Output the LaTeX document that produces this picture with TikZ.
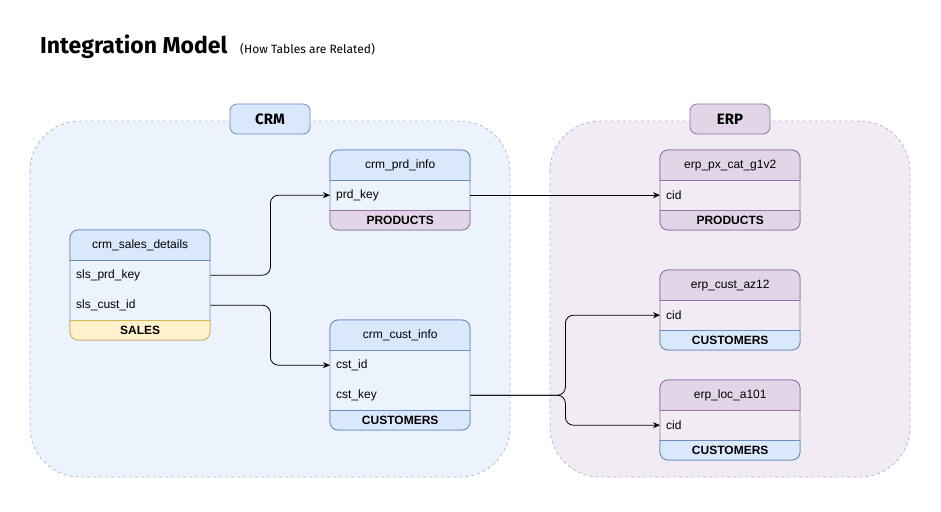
\documentclass[tikz,border=0pt]{standalone}
\usepackage{fontspec}
\setmainfont{Liberation Sans}
\newfontfamily\handfont{Fira Sans}
\usetikzlibrary{arrows.meta}
\definecolor{crmhead}{HTML}{DAE8FC}
\definecolor{crmline}{HTML}{6C8EBF}
\definecolor{crmbody}{HTML}{EDF3FC}
\definecolor{crmcont}{HTML}{EDF3FC}
\definecolor{crmdash}{HTML}{AFBDD9}
\definecolor{erphead}{HTML}{E1D5E7}
\definecolor{erpline}{HTML}{9673A6}
\definecolor{erpbody}{HTML}{F1ECF4}
\definecolor{erpcont}{HTML}{F1EBF4}
\definecolor{erpdash}{HTML}{C4B1CD}
\definecolor{salesfill}{HTML}{FFF2CC}
\definecolor{salesline}{HTML}{D6B656}
\newcommand\tabframe[8]{%
 \pgfmathsetmacro\tfxa{#1}\pgfmathsetmacro\tfxb{#1+140}%
 \pgfmathsetmacro\tfya{#2}\pgfmathsetmacro\tfyh{#2+30}%
 \pgfmathsetmacro\tfyf{#2+30+30*#3}\pgfmathsetmacro\tfyb{\tfyf+20}%
 \filldraw[fill=#5,draw=#6,tabline,rounded corners=8] (\tfxa,\tfya) rectangle (\tfxb,\tfyb);
 \begin{scope}\clip (\tfxa-2,\tfya-2) rectangle (\tfxb+2,\tfyh);
  \filldraw[fill=#4,draw=#6,tabline,rounded corners=8] (\tfxa,\tfya) rectangle (\tfxb,\tfyh+20);
 \end{scope}
 \draw[#6,tabline] (\tfxa,\tfyh) -- (\tfxb,\tfyh);
 \begin{scope}\clip (\tfxa-2,\tfyf) rectangle (\tfxb+2,\tfyb+2);
  \filldraw[fill=#7,draw=#8,tabline,rounded corners=8] (\tfxa,\tfyf-20) rectangle (\tfxb,\tfyb);
 \end{scope}
 \draw[#8,tabline] (\tfxa,\tfyf) -- (\tfxb,\tfyf);
}
\begin{document}
\begin{tikzpicture}[x=1pt,y=-1pt,
  tabline/.style={line width=0.8pt},
  ttl/.style={font=\fontsize{12}{14}\selectfont, minimum width=140pt, minimum height=30pt, inner sep=0pt, anchor=north west},
  rowtxt/.style={font=\fontsize{12}{14}\selectfont, text width=128pt, align=left, inner xsep=6pt, inner ysep=0pt, minimum height=30pt, anchor=north west},
  foot/.style={font=\bfseries\fontsize{12}{14}\selectfont, minimum width=140pt, minimum height=20pt, inner sep=0pt, anchor=north west},
  cont/.style={dashed, line width=0.8pt, rounded corners=50},
  lbl/.style={font=\handfont\bfseries\fontsize{15}{18}\selectfont, minimum width=80pt, minimum height=30pt, inner sep=0pt, rounded corners=7, line width=0.8pt},
  conn/.style={line width=0.8pt, rounded corners=8, -{Stealth[length=7pt,width=6pt]}}
]
\useasboundingbox (0,0) rectangle (941,511);
\fill[white] (0,0) rectangle (941,511);

% title
\node[font=\handfont\bfseries\fontsize{23}{26}\selectfont, anchor=base west, inner sep=0pt] (title) at (40,54) {Integration Model};
\node[font=\handfont\fontsize{12}{14}\selectfont, anchor=base west, inner sep=0pt] (subtitle) at (240,53) {(How Tables are Related)};

% containers
\filldraw[cont, fill=crmcont, draw=crmdash] (30,121) rectangle (510,477);
\filldraw[cont, fill=erpcont, draw=erpdash] (550,121) rectangle (910,477);
\node[lbl, fill=crmhead, draw=crmline] (crm) at (270,119) {CRM};
\node[lbl, fill=erphead, draw=erpline] (erp) at (730,119) {ERP};

% crm_sales_details
\tabframe{70}{230}{2}{crmhead}{crmbody}{crmline}{salesfill}{salesline}
\node[ttl] (sdh) at (70,230) {crm\_sales\_details};
\node[rowtxt] (sprd) at (70,260) {sls\_prd\_key};
\node[rowtxt] (scust) at (70,290) {sls\_cust\_id};
\node[foot] (sdf) at (70,320) {SALES};

% crm_prd_info
\tabframe{330}{150}{1}{crmhead}{crmbody}{crmline}{erphead}{erpline}
\node[ttl] (pih) at (330,150) {crm\_prd\_info};
\node[rowtxt] (prdk) at (330,180) {prd\_key};
\node[foot] (pif) at (330,210) {PRODUCTS};

% crm_cust_info
\tabframe{330}{320}{2}{crmhead}{crmbody}{crmline}{crmhead}{crmline}
\node[ttl] (cih) at (330,320) {crm\_cust\_info};
\node[rowtxt] (cstid) at (330,350) {cst\_id};
\node[rowtxt] (cstk) at (330,380) {cst\_key};
\node[foot] (cif) at (330,410) {CUSTOMERS};

% erp_px_cat_g1v2
\tabframe{660}{150}{1}{erphead}{erpbody}{erpline}{erphead}{erpline}
\node[ttl] (pxh) at (660,150) {erp\_px\_cat\_g1v2};
\node[rowtxt] (cid1) at (660,180) {cid};
\node[foot] (pxf) at (660,210) {PRODUCTS};

% erp_cust_az12
\tabframe{660}{270}{1}{erphead}{erpbody}{erpline}{crmhead}{crmline}
\node[ttl] (azh) at (660,270) {erp\_cust\_az12};
\node[rowtxt] (cid2) at (660,300) {cid};
\node[foot] (azf) at (660,330) {CUSTOMERS};

% erp_loc_a101
\tabframe{660}{380}{1}{erphead}{erpbody}{erpline}{crmhead}{crmline}
\node[ttl] (loh) at (660,380) {erp\_loc\_a101};
\node[rowtxt] (cid3) at (660,410) {cid};
\node[foot] (lof) at (660,440) {CUSTOMERS};

% connectors
\draw[conn] (sprd.east) -- ++(60,0) |- (prdk.west);
\draw[conn] (scust.east) -- ++(60,0) |- (cstid.west);
\draw[conn] (prdk.east) -- (cid1.west);
\draw[conn] (cstk.east) -- ++(95,0) |- (cid2.west);
\draw[conn] (cstk.east) -- ++(95,0) |- (cid3.west);
\end{tikzpicture}
\end{document}
